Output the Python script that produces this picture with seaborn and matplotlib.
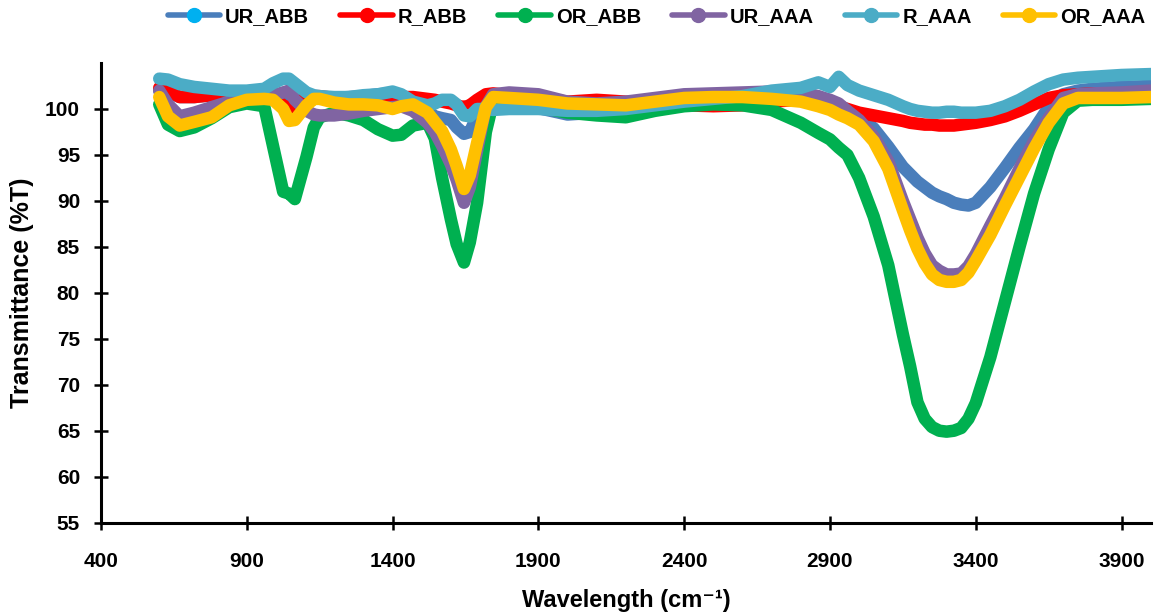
import numpy as np
import pandas as pd
import matplotlib
matplotlib.use('Agg')
import matplotlib.pyplot as plt
from matplotlib.lines import Line2D
import seaborn as sns

# wavenumber grid
wavenumber = [600, 630, 670, 720, 780, 840, 900, 960, 990, 1025, 1045, 1065, 1105, 1130, 1150,
              1200, 1250, 1300, 1350, 1400, 1430, 1470, 1520, 1545, 1570, 1600, 1620, 1645, 1665,
              1690, 1720, 1745, 1800, 1900, 2000, 2100, 2200, 2300, 2400, 2500, 2600, 2700, 2800,
              2860, 2900, 2930, 2960, 3000, 3050, 3100, 3150, 3175, 3200, 3225, 3250, 3275, 3300,
              3325, 3350, 3375, 3400, 3450,
              3500, 3550, 3600, 3650, 3700, 3750, 3800, 3900, 4000]

ur_abb = [102.0, 101.8, 101.3, 101.3, 101.5, 101.6, 101.7, 101.6, 101.5, 101.2, 101.0, 101.0, 101.2, 101.2, 101.2,
          101.2, 101.3, 101.4, 101.6, 101.7, 101.3, 100.6, 99.8, 99.2, 99.0, 98.8, 98.0, 97.3, 97.5,
          99.2, 100.3, 100.4, 100.2, 100.1, 99.4, 99.6, 100.0, 100.4, 100.8, 101.1, 101.4, 101.6, 101.5,
          101.0, 100.6, 100.3, 99.8, 99.2, 97.9, 95.9, 93.7, 92.9, 92.1, 91.5, 90.9, 90.5, 90.2,
          89.8, 89.6, 89.5, 89.8, 91.5,
          93.6, 95.8, 97.8, 100.2, 101.6, 102.0, 102.2, 102.4, 102.5]

r_abb = [102.3, 102.0, 101.3, 101.3, 101.5, 101.6, 101.7, 101.5, 101.3, 100.4, 100.1, 100.5, 101.3, 101.4, 101.4,
         101.2, 101.2, 101.3, 101.4, 101.4, 101.3, 101.3, 101.1, 101.0, 100.8, 100.6, 100.4, 100.2, 100.4,
         101.0, 101.6, 101.7, 101.5, 101.2, 100.8, 101.0, 100.8, 100.6, 100.4, 100.3, 100.4, 100.8, 101.0,
         100.8, 100.6, 100.3, 100.0, 99.6, 99.3, 99.0, 98.7, 98.5, 98.4, 98.3, 98.3, 98.2, 98.2,
         98.2, 98.3, 98.4, 98.5, 98.8,
         99.2, 99.8, 100.5, 101.2, 101.5, 101.6, 101.7, 101.7, 101.8]

or_abb = [100.5, 98.3, 97.6, 98.0, 99.0, 100.2, 100.6, 100.3, 96.0, 91.0, 90.8, 90.2, 94.8, 98.0, 99.1,
          99.6, 99.3, 98.8, 97.8, 97.1, 97.2, 98.2, 98.5, 96.8, 92.5, 88.0, 85.3, 83.3, 85.5,
          89.8, 97.5, 100.8, 100.6, 100.2, 99.6, 99.3, 99.1, 99.8, 100.3, 100.5, 100.4, 99.9, 98.5,
          97.4, 96.7, 95.8, 95.0, 92.5, 88.3, 83.0, 75.5, 72.0, 68.1, 66.3, 65.4, 65.0, 64.9,
          65.0, 65.3, 66.3, 68.0, 73.0,
          79.0, 85.0, 90.8, 95.6, 99.6, 100.9, 101.0, 101.0, 101.1]

ur_aaa = [102.0, 100.5, 99.2, 99.6, 100.2, 100.8, 101.3, 101.4, 101.5, 101.8, 102.0, 101.0, 99.8, 99.4, 99.3,
          99.3, 99.5, 99.8, 100.0, 100.2, 100.3, 99.8, 98.5, 97.5, 96.0, 94.0, 92.3, 89.8, 91.5,
          95.5, 100.3, 101.6, 101.8, 101.6, 100.8, 100.6, 100.8, 101.2, 101.6, 101.7, 101.8, 101.9, 101.8,
          101.4, 101.0, 100.6, 99.8, 98.8, 97.0, 94.3, 90.0, 88.0, 86.0, 84.3, 83.0, 82.4, 82.0,
          82.0, 82.1, 82.9, 84.2, 87.3,
          90.3, 93.5, 96.5, 99.0, 101.2, 101.6, 101.7, 101.8, 102.0]

r_aaa = [103.3, 103.2, 102.7, 102.4, 102.2, 102.0, 102.0, 102.2, 102.8, 103.3, 103.3, 102.8, 101.8, 101.5, 101.4,
         101.3, 101.3, 101.5, 101.6, 101.9, 101.6, 100.8, 100.4, 100.6, 101.0, 101.0, 100.5, 99.3, 99.2,
         100.0, 100.0, 99.9, 100.0, 100.0, 99.8, 99.8, 100.0, 100.4, 100.8, 101.1, 101.4, 102.0, 102.3,
         102.9, 102.4, 103.5, 102.6, 102.0, 101.5, 101.0, 100.3, 100.0, 99.8, 99.7, 99.6, 99.6, 99.7,
         99.7, 99.6, 99.6, 99.6, 99.8,
         100.3, 101.0, 101.9, 102.7, 103.2, 103.4, 103.5, 103.7, 103.8]

or_aaa = [101.3, 99.2, 98.2, 98.6, 99.1, 100.4, 101.0, 101.1, 101.0, 100.0, 98.7, 98.8, 100.4, 101.1, 101.1,
          100.7, 100.5, 100.5, 100.4, 100.0, 100.3, 100.5, 99.6, 98.6, 97.6, 95.6, 93.8, 91.3, 92.8,
          96.3, 100.2, 101.3, 101.2, 101.0, 100.6, 100.5, 100.4, 100.8, 101.2, 101.3, 101.3, 101.1, 100.8,
          100.3, 99.9, 99.4, 99.0, 98.3, 96.5, 93.5, 89.0, 86.8, 84.8, 83.2, 82.0, 81.4, 81.2,
          81.2, 81.4, 82.2, 83.5, 86.3,
          89.5, 92.6, 95.7, 98.5, 100.6, 101.2, 101.2, 101.2, 101.3]

series_names = ['UR_ABB', 'R_ABB', 'OR_ABB', 'UR_AAA', 'R_AAA', 'OR_AAA']
line_colors = ['#4A7EBB', '#FF0000', '#00B050', '#8064A2', '#4BACC6', '#FFC000']
marker_colors = ['#00B0F0', '#FF0000', '#00B050', '#8064A2', '#4BACC6', '#FFC000']

frames = []
for name, vals in zip(series_names, [ur_abb, r_abb, or_abb, ur_aaa, r_aaa, or_aaa]):
    frames.append(pd.DataFrame({'Wavelength': wavenumber, 'T': vals, 'series': name}))
df = pd.concat(frames, ignore_index=True)

sns.set_style('ticks')
plt.rcParams['font.family'] = ['Liberation Sans', 'DejaVu Sans']
plt.rcParams['font.weight'] = 'bold'
plt.rcParams['text.color'] = 'black'
plt.rcParams['axes.labelcolor'] = 'black'

fig = plt.figure(figsize=(11.6, 6.12), dpi=100)
ax = fig.add_axes([0.087, 0.146, 0.905, 0.751])

sns.lineplot(data=df, x='Wavelength', y='T', hue='series', hue_order=series_names,
             palette=dict(zip(series_names, line_colors)), linewidth=9, sort=False,
             legend=False, ax=ax, solid_capstyle='round', solid_joinstyle='round')

ax.set_xlim(400, 4000)
ax.set_ylim(55, 105)
ax.set_xticks(np.arange(400, 4000, 500))
ax.set_yticks(np.arange(55, 101, 5))
sns.despine(ax=ax)
for s in ['left', 'bottom']:
    ax.spines[s].set_linewidth(2.2)
    ax.spines[s].set_color('black')
ax.tick_params(axis='both', direction='inout', length=10, width=1.8, labelsize=15,
               colors='black', labelcolor='black')
ax.tick_params(axis='x', pad=16)
ax.tick_params(axis='y', pad=10)
for lab in ax.get_xticklabels() + ax.get_yticklabels():
    lab.set_fontweight('bold')

ax.set_xlabel('Wavelength (cm⁻¹)', fontsize=17, fontweight='bold', labelpad=13)
ax.set_ylabel('Transmittance (%T)', fontsize=18, fontweight='bold', labelpad=8)

handles = [Line2D([0], [0], color=lc, lw=4, marker='o', markersize=10,
                  markerfacecolor=mc, markeredgecolor=mc)
           for lc, mc in zip(line_colors, marker_colors)]
fig.legend(handles, series_names, loc='upper center', bbox_to_anchor=(0.566, 1.018), ncol=6,
           frameon=False, prop={'size': 14.5, 'weight': 'bold'}, handlelength=2.6,
           handletextpad=0.25, columnspacing=1.55)

fig.savefig('out.png', dpi=100, facecolor='white')
